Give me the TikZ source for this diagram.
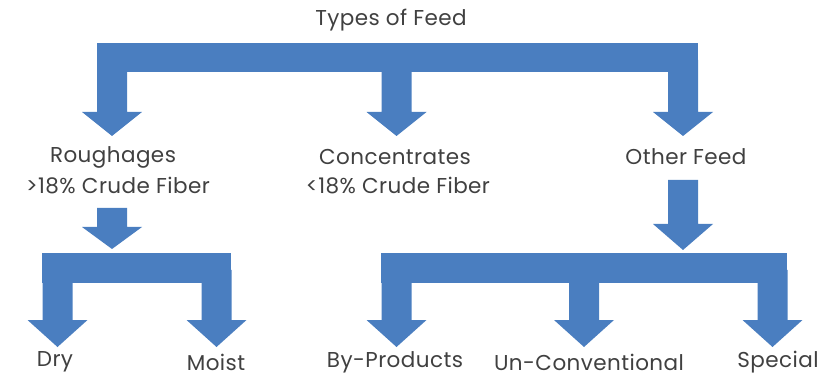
\documentclass[tikz,border=0pt]{standalone}
\usepackage{fontspec}
\setmainfont{Poppins}[LetterSpace=2]
\definecolor{arrowblue}{RGB}{74,126,192}
\definecolor{labelgray}{RGB}{64,64,64}
\tikzset{
  label text/.style={text=labelgray, font=\fontsize{21.5}{25}\selectfont, inner sep=0pt, anchor=center},
  block/.style={fill=arrowblue, draw=none},
}
% down block arrow: centre x, stem top y, head base y, tip y (stem 30 wide, head 60 wide)
\newcommand{\downblock}[4]{%
  \fill[arrowblue] (#1-15,#2) -- (#1+15,#2) -- (#1+15,#3) -- (#1+30,#3) -- (#1,#4) -- (#1-30,#3) -- (#1-15,#3) -- cycle;}
\begin{document}
\begin{tikzpicture}[x=1pt,y=-1pt]
\useasboundingbox (0,0) rectangle (823,377);

% top bracket
\fill[arrowblue] (97,43) rectangle (698,72);
\downblock{112}{60}{112}{136}
\downblock{396.5}{60}{112}{136}
\downblock{683}{60}{112}{136}

% roughages branch
\downblock{112}{208}{227}{249}
\fill[arrowblue] (42,253) rectangle (231,283);
\downblock{57.5}{270}{320}{347}
\downblock{216.5}{270}{320}{347}

% other feed branch
\downblock{683}{180}{224}{250}
\fill[arrowblue] (381,253) rectangle (787,283);
\downblock{396.5}{270}{320}{347}
\downblock{584}{270}{320}{347}
\downblock{772.5}{270}{320}{347}

% labels
\node[label text] (types) at (391,20) {Types of Feed};
\node[label text] (rough) at (113,157) {Roughages};
\node[label text] (roughfib) at (118,186) {>18\% Crude Fiber};
\node[label text] (conc) at (395,157) {Concentrates};
\node[label text] (concfib) at (398,186) {<18\% Crude Fiber};
\node[label text] (other) at (686,157) {Other Feed};
\node[label text] (dry) at (55,362) {Dry};
\node[label text] (moist) at (216,362) {Moist};
\node[label text] (byprod) at (395,362) {By-Products};
\node[label text] (uncon) at (589,362) {Un-Conventional};
\node[label text] (special) at (778,362) {Special};
\end{tikzpicture}
\end{document}
